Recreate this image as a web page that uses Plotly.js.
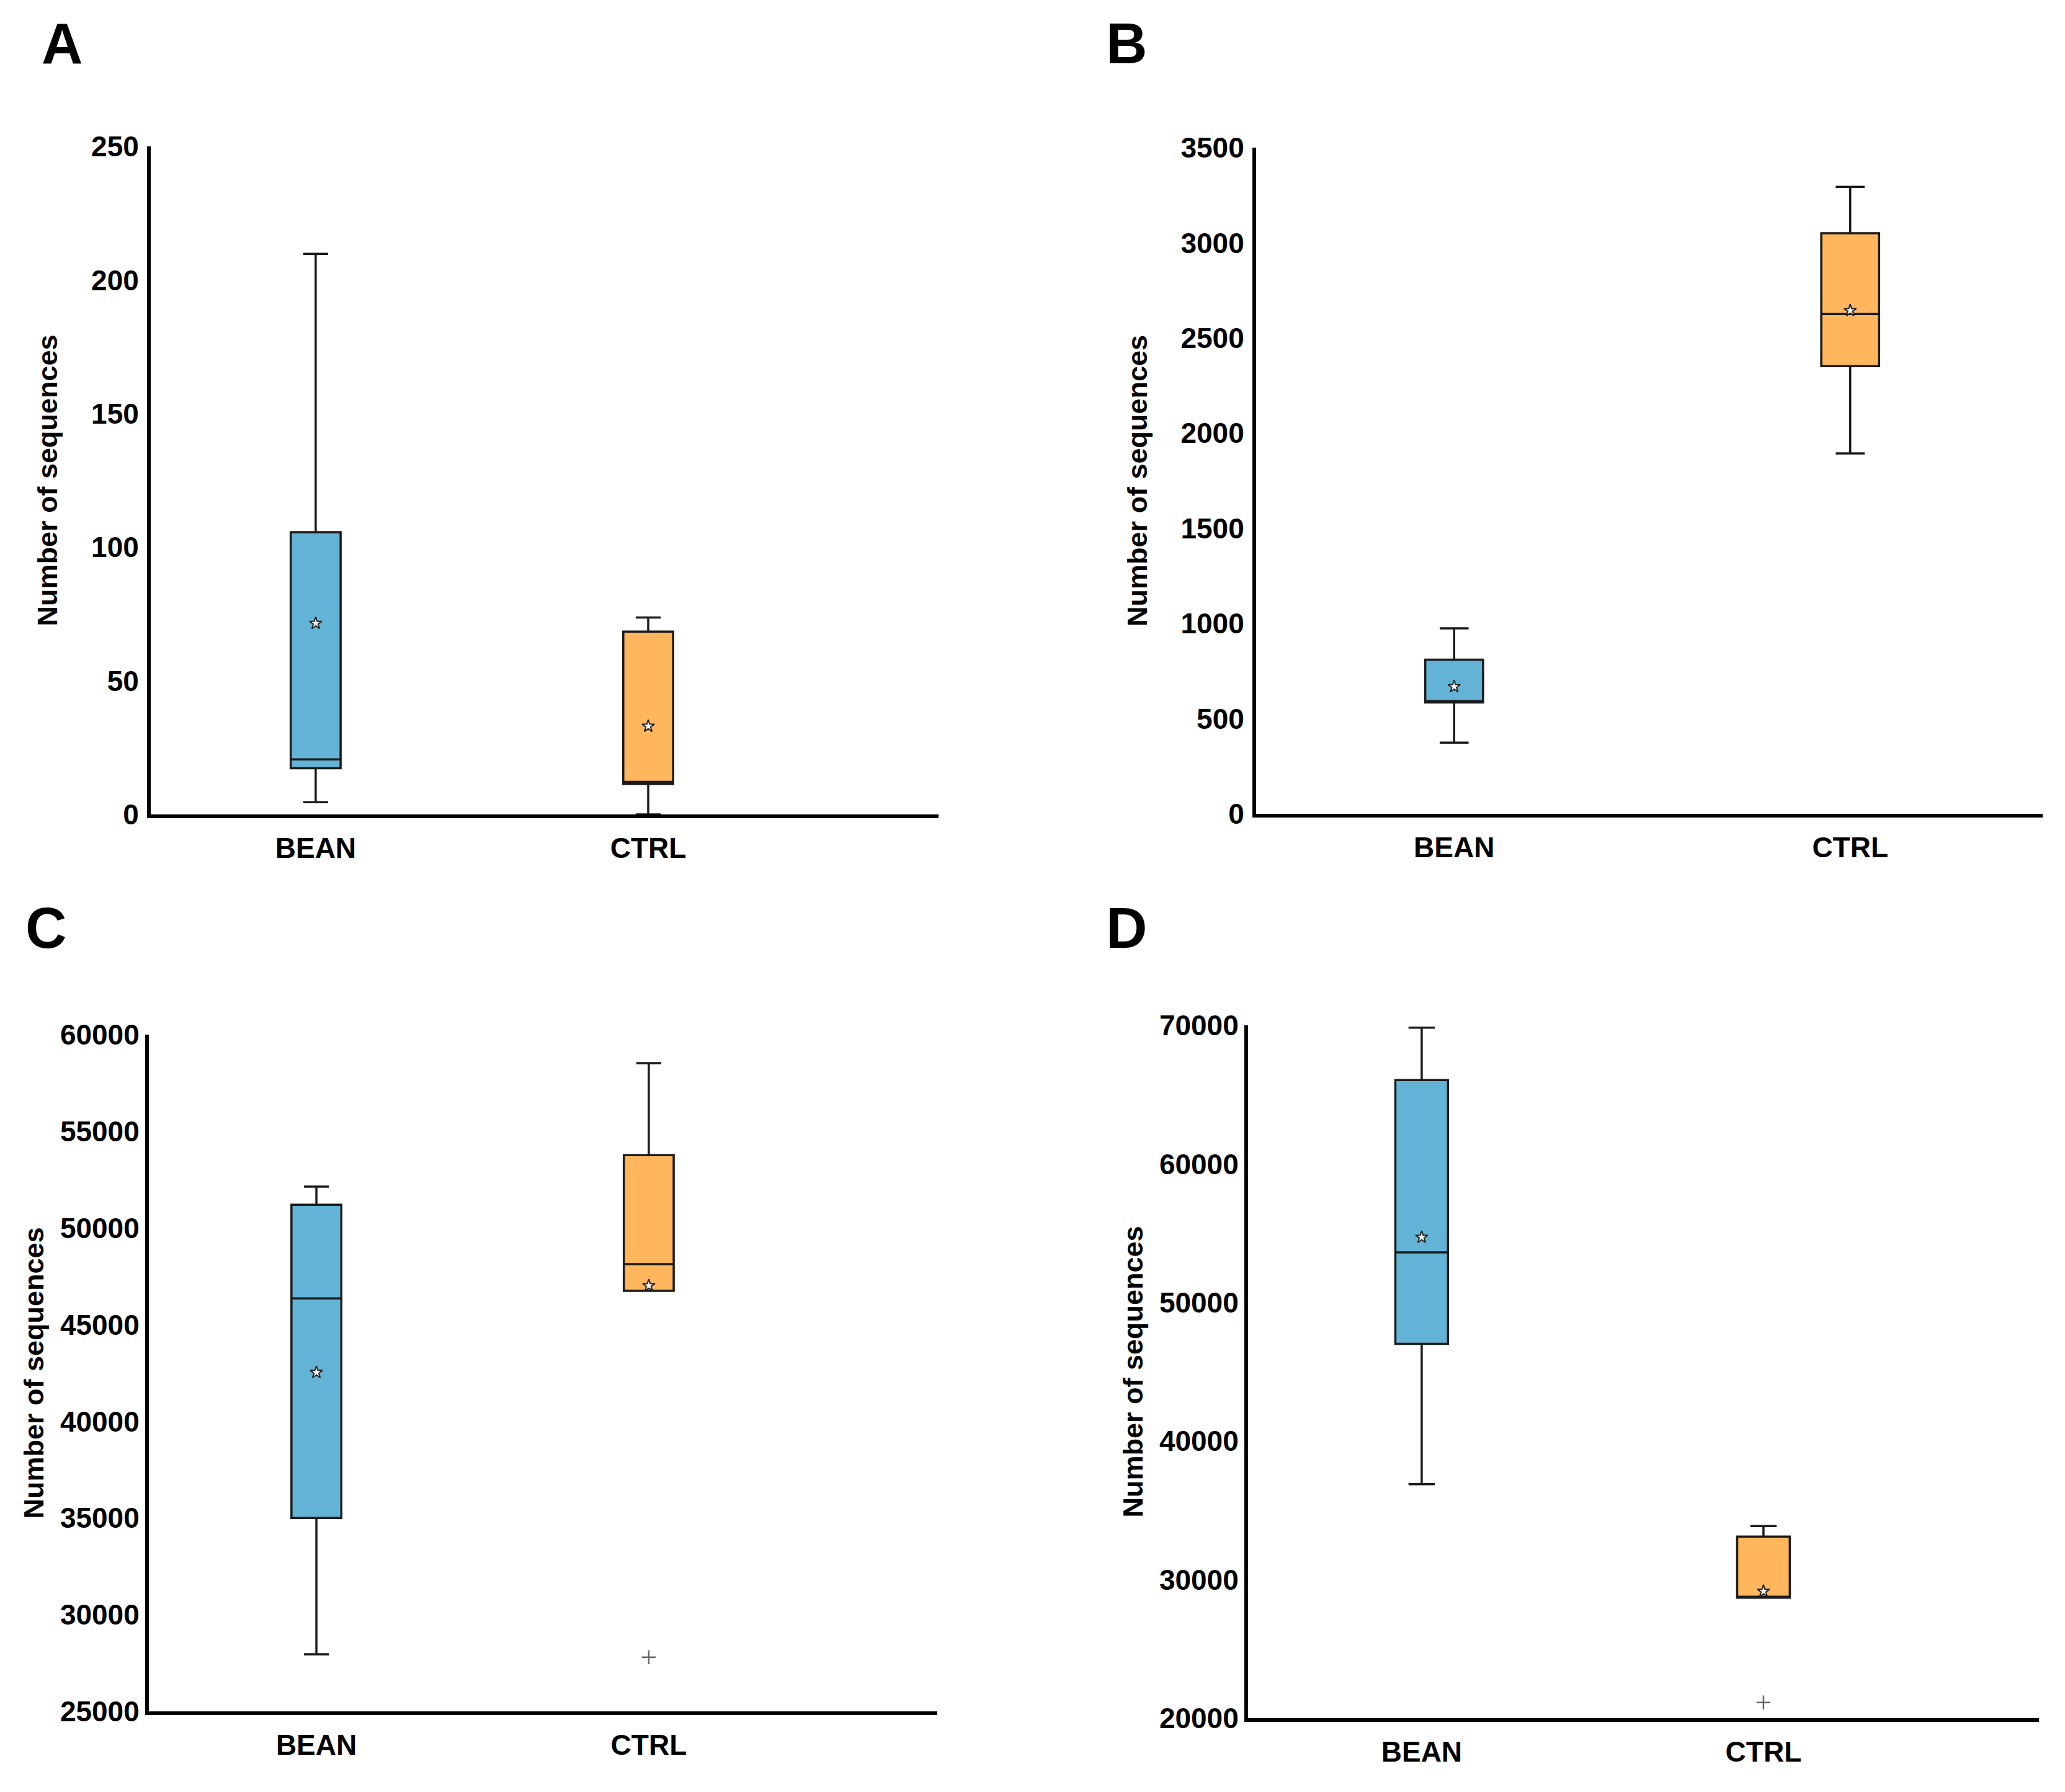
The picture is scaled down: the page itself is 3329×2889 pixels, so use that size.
<!DOCTYPE html>
<html>
<head>
<meta charset="utf-8">
<script src="https://cdn.plot.ly/plotly-3.0.1.min.js"></script>
<style>html,body{margin:0;padding:0;background:#fff;}#chart{width:3329px;height:2889px;}</style>
</head>
<body>
<div id="chart"></div>
<script>
// ---- data ----
const categories = ['BEAN', 'CTRL'];
const panelLetters = ['A', 'B', 'C', 'D'];
const yTitle = 'Number of sequences';

// Panel A
const q1A = [17.3, 11.4];
const medA = [20.6, 12.2];
const q3A = [105.6, 68.4];
const loA = [4.6, 0];
const hiA = [209.8, 73.7];
const meanA = [71.5, 33.0];
const outA = [[], []];

// Panel B
const q1B = [585, 2352];
const medB = [592, 2626];
const q3B = [810, 3050];
const loB = [374, 1893];
const hiB = [974, 3294];
const meanB = [668, 2644];
const outB = [[], []];

// Panel C
const q1C = [35000, 46747];
const medC = [46355, 48133];
const q3C = [51205, 53765];
const loC = [27952, 46747];
const hiC = [52139, 58524];
const meanC = [42530, 47018];
const outC = [[], [27800]];

// Panel D
const q1D = [47017, 28700];
const medD = [53613, 28760];
const q3D = [66050, 33109];
const loD = [36891, 28700];
const hiD = [69832, 33866];
const meanD = [54706, 29160];
const outD = [[], [21134]];

// y-axis tick settings per panel
const yRanges = [[0, 250], [0, 3500], [25000, 60000], [20000, 70000]];
const yDticks = [50, 500, 5000, 10000];

// ---- styling ----
const W = 3329, H = 2889;
const fills = ['#63B3D7', '#FFB65C'];
const panels = [
  {q1: q1A, med: medA, q3: q3A, lo: loA, hi: hiA, mean: meanA, out: outA},
  {q1: q1B, med: medB, q3: q3B, lo: loB, hi: hiB, mean: meanB, out: outB},
  {q1: q1C, med: medC, q3: q3C, lo: loC, hi: hiC, mean: meanC, out: outC},
  {q1: q1D, med: medD, q3: q3D, lo: loD, hi: hiD, mean: meanD, out: outD}
];
// plot-area pixel boxes [left, right, top, bottom]
const boxesPx = [
  [243, 1513, 236, 1313],
  [2025, 3293, 238, 1312],
  [240, 1511, 1668, 2759],
  [2012, 3287, 1653, 2770]
];
const xRanges = [[-0.496, 1.873], [-0.50, 1.486], [-0.504, 1.868], [-0.508, 1.806]];
const boxWidths = [0.15, 0.146, 0.15, 0.154];
const letterPos = [[100, 70], [1816, 70], [74, 1496], [1816, 1496]];
const yLabelStandoff = [4, 4, 0, 0];
const yTitleStandoff = [42, 42, 14, 14];

const FONT = 'Liberation Sans, Arial, sans-serif';
const traces = [];
const layout = {
  width: W, height: H,
  margin: {l: 0, r: 0, t: 0, b: 0, pad: 0},
  paper_bgcolor: '#fff', plot_bgcolor: '#fff',
  showlegend: false,
  boxmode: 'overlay',
  font: {family: FONT, color: '#000'},
  annotations: []
};

panels.forEach((p, i) => {
  const n = i + 1;
  const xa = 'x' + (n === 1 ? '' : n);
  const ya = 'y' + (n === 1 ? '' : n);
  categories.forEach((c, j) => {
    traces.push({
      type: 'box', xaxis: xa, yaxis: ya,
      x: [c], q1: [p.q1[j]], median: [p.med[j]], q3: [p.q3[j]],
      lowerfence: [p.lo[j]], upperfence: [p.hi[j]],
      boxpoints: false, boxmean: false,
      width: boxWidths[i], whiskerwidth: 0.5,
      fillcolor: fills[j],
      line: {color: '#1a1a1a', width: 3.5},
      hoverinfo: 'skip'
    });
    if (p.out[j].length) {
      traces.push({
        type: 'scatter', mode: 'markers', xaxis: xa, yaxis: ya,
        x: p.out[j].map(() => c), y: p.out[j],
        marker: {symbol: 'cross-thin-open', size: 16, color: '#666', line: {color: '#666', width: 2.5}},
        hoverinfo: 'skip'
      });
    }
  });
  traces.push({
    type: 'scatter', mode: 'markers', xaxis: xa, yaxis: ya,
    x: categories, y: p.mean,
    marker: {symbol: 'star', size: 15, color: '#fff', line: {color: '#222', width: 2}},
    hoverinfo: 'skip'
  });

  const b = boxesPx[i];
  layout['xaxis' + (n === 1 ? '' : n)] = {
    domain: [b[0] / W, b[1] / W], anchor: ya,
    type: 'category', categoryorder: 'array', categoryarray: categories,
    range: xRanges[i], showgrid: false, zeroline: false,
    showline: true, linecolor: '#000', linewidth: 6,
    ticks: '', ticklabelstandoff: 9,
    tickfont: {family: FONT, size: 46, color: '#000', weight: 'bold'},
    fixedrange: true, automargin: false
  };
  layout['yaxis' + (n === 1 ? '' : n)] = {
    domain: [1 - b[3] / H, 1 - b[2] / H], anchor: xa,
    range: yRanges[i], dtick: yDticks[i], tick0: 0, tickformat: 'd',
    showgrid: false, zeroline: false,
    showline: true, linecolor: '#000', linewidth: 6,
    ticks: '', ticklabelstandoff: yLabelStandoff[i],
    tickfont: {family: FONT, size: 46, color: '#000', weight: 'bold'},
    title: {text: yTitle, standoff: yTitleStandoff[i], font: {family: FONT, size: 45, color: '#000', weight: 'bold'}},
    fixedrange: true, automargin: false
  };
  layout.annotations.push({
    text: panelLetters[i], xref: 'paper', yref: 'paper',
    x: letterPos[i][0] / W, y: 1 - letterPos[i][1] / H,
    xanchor: 'center', yanchor: 'middle', showarrow: false,
    font: {family: FONT, size: 92, color: '#000', weight: 'bold'}
  });
});

Plotly.newPlot('chart', traces, layout, {displayModeBar: false, staticPlot: true});
</script>
</body>
</html>
